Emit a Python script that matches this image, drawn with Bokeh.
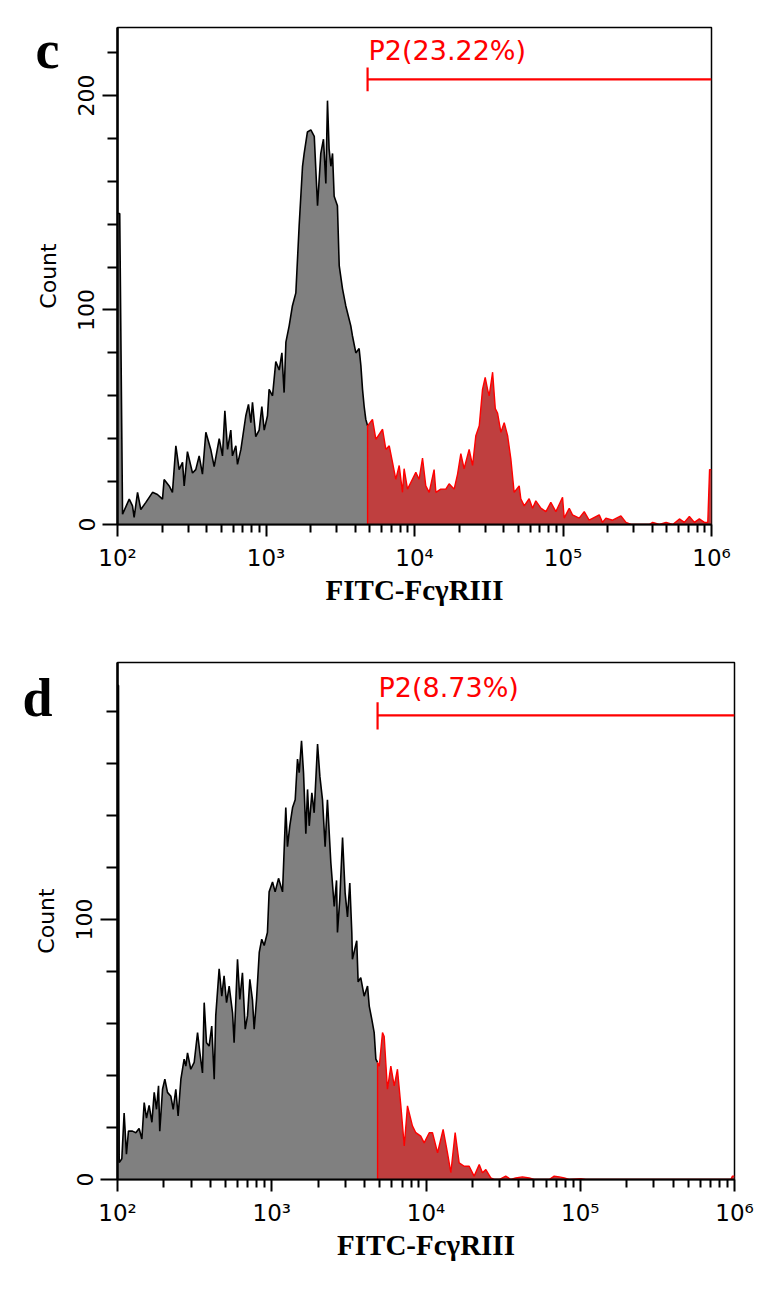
import math
from bokeh.plotting import figure
from bokeh.layouts import column
from bokeh.models import Range1d, FixedTicker, CustomJSTickFormatter, Label
from bokeh.embed import file_html
from bokeh.resources import INLINE

# ---------------- data ----------------
# log10(FITC intensity) of traced histogram points, and counts
c_log_fitc = [2.000, 2.015, 2.034, 2.079, 2.101, 2.112, 2.135, 2.157, 2.191, 2.236,
              2.269, 2.303, 2.314, 2.348, 2.370, 2.393, 2.415, 2.438, 2.449, 2.471,
              2.505, 2.527, 2.550, 2.572, 2.595, 2.628, 2.651, 2.685, 2.707, 2.723,
              2.741, 2.763, 2.774, 2.797, 2.808, 2.831, 2.864, 2.882, 2.898, 2.909,
              2.931, 2.954, 2.972, 2.988, 3.010, 3.021, 3.044, 3.066, 3.089, 3.107,
              3.122, 3.134, 3.156, 3.178, 3.201, 3.223, 3.246, 3.257, 3.279, 3.302,
              3.325, 3.347, 3.369, 3.387, 3.403, 3.414, 3.425, 3.437, 3.448, 3.459,
              3.481, 3.493, 3.515, 3.537, 3.571, 3.582, 3.605, 3.627, 3.639, 3.650,
              3.661, 3.672, 3.684, 3.717, 3.740, 3.785, 3.807, 3.830, 3.852, 3.874,
              3.897, 3.919, 3.930, 3.953, 3.975, 4.009, 4.031, 4.054, 4.076, 4.099,
              4.132, 4.144, 4.177, 4.211, 4.233, 4.267, 4.290, 4.312, 4.334, 4.368,
              4.391, 4.413, 4.436, 4.458, 4.476, 4.492, 4.503, 4.526, 4.544, 4.559,
              4.582, 4.604, 4.627, 4.649, 4.671, 4.705, 4.716, 4.739, 4.772, 4.795,
              4.817, 4.851, 4.885, 4.918, 4.952, 4.997, 5.008, 5.042, 5.064, 5.109,
              5.143, 5.176, 5.244, 5.266, 5.289, 5.334, 5.390, 5.424, 5.458, 5.581,
              5.604, 5.649, 5.694, 5.739, 5.784, 5.817, 5.851, 5.885, 5.918, 5.952,
              5.975, 5.987, 6.000]
c_count = [145, 145, 4.8, 11.8, 8.7, 3.3, 15, 7, 10.3, 15,
           14, 11.8, 21, 18, 15, 36.7, 25.6, 29, 18, 34,
           24, 25.6, 32, 23.5, 43, 35, 27, 40, 32, 53,
           35, 44, 32, 36.7, 28, 35, 50.7, 56, 47.5, 57,
           41, 44, 55, 44, 50.7, 63, 60, 76, 72, 80,
           61.5, 85, 92.6, 102, 108, 139, 167, 173, 183, 184,
           181, 148.6, 173, 179.6, 159, 197.6, 175, 167, 173, 153,
           148.6, 120.7, 110, 102, 92.6, 88, 80, 82, 74, 63,
           55, 49, 46, 49, 39.7, 44.4, 35, 36.7, 29, 21,
           27.5, 15, 26, 16.5, 19.6, 24.3, 21, 31, 18, 15,
           25.6, 15, 16.5, 16.5, 19, 16.5, 23.5, 33, 26, 35,
           27.5, 41.4, 46, 63, 68.6, 63, 60, 71, 54, 52,
           43, 47.5, 41.4, 30.5, 15, 18, 12, 8.7, 12, 7.6,
           11, 7.6, 6, 10.3, 6, 12.7, 3, 7.6, 4.5, 3,
           6, 2, 4.5, 1, 3, 2, 4, 1, 0, 0,
           1, 0, 1, 0, 2.6, 1, 3.7, 1, 2.6, 1,
           1, 25.6, 25.6]

d_log_fitc = [2.000, 2.0065, 2.011, 2.028, 2.043, 2.058, 2.071, 2.097, 2.119, 2.140,
              2.158, 2.173, 2.188, 2.205, 2.223, 2.238, 2.253, 2.266, 2.274, 2.292,
              2.307, 2.324, 2.346, 2.361, 2.378, 2.393, 2.411, 2.432, 2.443, 2.454,
              2.475, 2.497, 2.519, 2.534, 2.551, 2.562, 2.577, 2.594, 2.611, 2.627,
              2.637, 2.659, 2.676, 2.691, 2.707, 2.724, 2.746, 2.756, 2.778, 2.793,
              2.810, 2.828, 2.843, 2.858, 2.875, 2.886, 2.901, 2.919, 2.935, 2.951,
              2.972, 2.983, 3.005, 3.022, 3.044, 3.070, 3.091, 3.102, 3.117, 3.135,
              3.152, 3.167, 3.178, 3.193, 3.206, 3.221, 3.232, 3.243, 3.260, 3.275,
              3.297, 3.312, 3.329, 3.346, 3.361, 3.383, 3.405, 3.420, 3.426, 3.441,
              3.459, 3.476, 3.491, 3.506, 3.519, 3.523, 3.551, 3.560, 3.577, 3.599,
              3.621, 3.632, 3.649, 3.664, 3.675, 3.686, 3.697, 3.718, 3.729, 3.750,
              3.772, 3.794, 3.815, 3.837, 3.859, 3.880, 3.912, 3.934, 3.966, 3.988,
              4.021, 4.042, 4.075, 4.111, 4.139, 4.161, 4.189, 4.215, 4.248, 4.280,
              4.312, 4.345, 4.366, 4.388, 4.420, 4.442, 4.474, 4.517, 4.550, 4.582,
              4.625, 4.669, 4.701, 4.799, 4.831, 4.864, 4.896, 4.928, 5.004, 5.036,
              5.976, 5.987, 6.000]
d_count = [190, 190, 6.5, 8, 25.6, 9.7, 18.6, 18.6, 18, 19.6,
           15.6, 29.6, 23.6, 28.5, 22, 33.5, 27, 36, 18.6, 34.7,
           38.6, 33.5, 32, 27, 34.7, 24.4, 38.6, 46.3, 43.6, 48.7,
           42.4, 45, 56.5, 48.7, 41, 68, 52.6, 51.3, 59, 38.6,
           63, 81, 70.5, 78.3, 68, 74.4, 64, 52.6, 84.7, 69.2,
           79.5, 57.8, 63, 77, 69, 57.8, 69, 87.3, 92.4, 90,
           95, 110.6, 114.4, 110.6, 115.8, 110.6, 143, 128, 136, 143,
           146, 161.7, 156.4, 168.7, 156.4, 133, 150, 136, 148.7, 141,
           167.4, 155, 146, 128, 146, 121.9, 105, 115, 95, 107.7,
           131.5, 110, 101, 114, 95, 84.7, 91.8, 76, 77.6, 70.5,
           74.4, 66.7, 61.5, 56.5, 46.3, 45, 43.6, 56.5, 55, 34.7,
           43.6, 36, 42.4, 28.3, 12.9, 28.3, 20.6, 18, 16.7, 14.1,
           18, 18, 10.3, 19.3, 10.3, 2.6, 18, 6.4, 5.1, 5.1,
           1.3, 5.8, 2.6, 3.8, 0.6, 0, 0, 1.3, 0, 0.6,
           1, 0.6, 0, 0, 1.3, 1, 0.6, 0, 0.3, 0,
           0, 1.3, 1.3]

# gates (log10 of threshold), gate bar level and its end-tick span, label
c_gate_log = 3.684
d_gate_log = 3.686
c_gate_level = 207.5
d_gate_level = 178.5
c_gate_tick = (202.0, 213.0)
d_gate_tick = (173.0, 183.5)
c_gate_label = "P2(23.22%)"
d_gate_label = "P2(8.73%)"
c_label_level = 221.0
d_label_level = 189.0

c_y_max = 231.7
d_y_max = 198.8
c_y_major = [0, 100, 200]
c_y_minor = [20, 40, 60, 80, 120, 140, 160, 180, 220]
d_y_major = [0, 100]
d_y_minor = [20, 40, 60, 80, 120, 140, 160, 180]

x_tick_values = [1e2, 1e3, 1e4, 1e5, 1e6]
x_tick_labels = ["10\u00b2", "10\u00b3", "10\u2074", "10\u2075", "10\u2076"]
x_minor_ticks = [k * 10 ** e for e in range(2, 6) for k in range(2, 10)]

x_title = "FITC-Fc\u03b3RIII"
y_title = "Count"
panel_letters = ["c", "d"]

GRAY = "#808080"
RED_FILL = "#bf3f3f"
RED = "#ff0000"
SANS = "DejaVu Sans"
SERIF = "Liberation Serif"


def make_panel(letter, letter_xy, log_fitc, counts, gate_log, gate_level, gate_tick,
               gate_label, label_level, y_max, y_major, y_minor,
               frame_w, frame_h, b_left, b_right, b_top, b_bottom, y_major_len, y_minor_len):
    p = figure(x_axis_type="log", x_range=Range1d(1e2, 1e6), y_range=Range1d(0, y_max),
               frame_width=frame_w, frame_height=frame_h,
               min_border_left=b_left, min_border_right=b_right,
               min_border_top=b_top, min_border_bottom=b_bottom,
               output_backend="svg", toolbar_location=None)
    p.grid.visible = False
    p.outline_line_color = "black"
    p.outline_line_width = 1.5
    p.background_fill_color = "white"
    p.border_fill_color = "white"

    eps = 1e-6
    gx = [10 ** v for v, c in zip(log_fitc, counts) if v <= gate_log + eps]
    gy = [c for v, c in zip(log_fitc, counts) if v <= gate_log + eps]
    rx = [10 ** v for v, c in zip(log_fitc, counts) if v >= gate_log - eps]
    ry = [c for v, c in zip(log_fitc, counts) if v >= gate_log - eps]
    gate = 10 ** gate_log

    p.varea(x=gx, y1=[0] * len(gx), y2=gy, fill_color=GRAY)
    p.varea(x=rx, y1=[0] * len(rx), y2=ry, fill_color=RED_FILL)
    p.line(gx, gy, line_color="black", line_width=1.6)
    p.line([gate] + rx, [0] + ry, line_color=RED, line_width=1.4)

    # gate marker
    p.segment(x0=[gate], y0=[gate_level], x1=[1e6], y1=[gate_level], line_color=RED, line_width=2.2)
    p.segment(x0=[gate], y0=[gate_tick[0]], x1=[gate], y1=[gate_tick[1]], line_color=RED, line_width=2.2)
    p.add_layout(Label(x=gate, y=label_level, text=gate_label, text_font=SANS,
                       text_font_size="27px", text_color=RED, text_baseline="alphabetic",
                       text_align="left", x_offset=1))

    # panel letter, kept in a side panel so that it is not clipped to the frame
    p.add_layout(Label(x=letter_xy[0], y=letter_xy[1], x_units="canvas", y_units="canvas",
                       text=letter, text_font=SERIF, text_font_style="bold",
                       text_font_size="54px", text_baseline="alphabetic",
                       text_align="left", text_color="black"), "right")

    xa = p.xaxis[0]
    xa.ticker = FixedTicker(ticks=x_tick_values, minor_ticks=x_minor_ticks)
    xa.formatter = CustomJSTickFormatter(args=dict(vals=x_tick_values, labs=x_tick_labels), code="""
        let best = 0, d = Infinity;
        for (let i = 0; i < vals.length; i++) {
            const e = Math.abs(Math.log10(tick) - Math.log10(vals[i]));
            if (e < d) { d = e; best = i; }
        }
        return labs[best];
    """)
    xa.major_tick_in = 0
    xa.major_tick_out = 12
    xa.minor_tick_in = 0
    xa.minor_tick_out = 8
    xa.major_tick_line_width = 2
    xa.minor_tick_line_width = 2
    xa.axis_line_width = 2
    xa.major_label_text_font = SANS
    xa.major_label_text_font_size = "23px"
    xa.major_label_text_color = "black"
    xa.major_label_standoff = 8
    xa.axis_label = x_title
    xa.axis_label_text_font = SERIF
    xa.axis_label_text_font_style = "bold"
    xa.axis_label_text_font_size = "29px"
    xa.axis_label_text_color = "black"
    xa.axis_label_standoff = 0

    ya = p.yaxis[0]
    ya.ticker = FixedTicker(ticks=y_major, minor_ticks=y_minor)
    ya.major_tick_in = 0
    ya.major_tick_out = y_major_len
    ya.minor_tick_in = 0
    ya.minor_tick_out = y_minor_len
    ya.major_tick_line_width = 2
    ya.minor_tick_line_width = 2
    ya.axis_line_width = 2.5
    ya.major_label_orientation = "vertical"
    ya.major_label_text_font = SANS
    ya.major_label_text_font_size = "22px"
    ya.major_label_text_color = "black"
    ya.major_label_standoff = 8
    ya.axis_label = y_title
    ya.axis_label_text_font = SANS
    ya.axis_label_text_font_style = "normal"
    ya.axis_label_text_font_size = "22px"
    ya.axis_label_text_color = "black"
    ya.axis_label_standoff = 15
    return p


pc = make_panel(panel_letters[0], (35, 49), c_log_fitc, c_count, c_gate_log, c_gate_level,
                c_gate_tick, c_gate_label, c_label_level, c_y_max, c_y_major, c_y_minor,
                594, 497, 117, 40, 27, 111, 15, 10)
pd_ = make_panel(panel_letters[1], (22, 62), d_log_fitc, d_count, d_gate_log, d_gate_level,
                 d_gate_tick, d_gate_label, d_label_level, d_y_max, d_y_major, d_y_minor,
                 617, 517, 107, 34, 27, 80, 17, 11)

layout = column(pc, pd_, spacing=0)
open("out.html", "w").write(file_html(layout, INLINE))
